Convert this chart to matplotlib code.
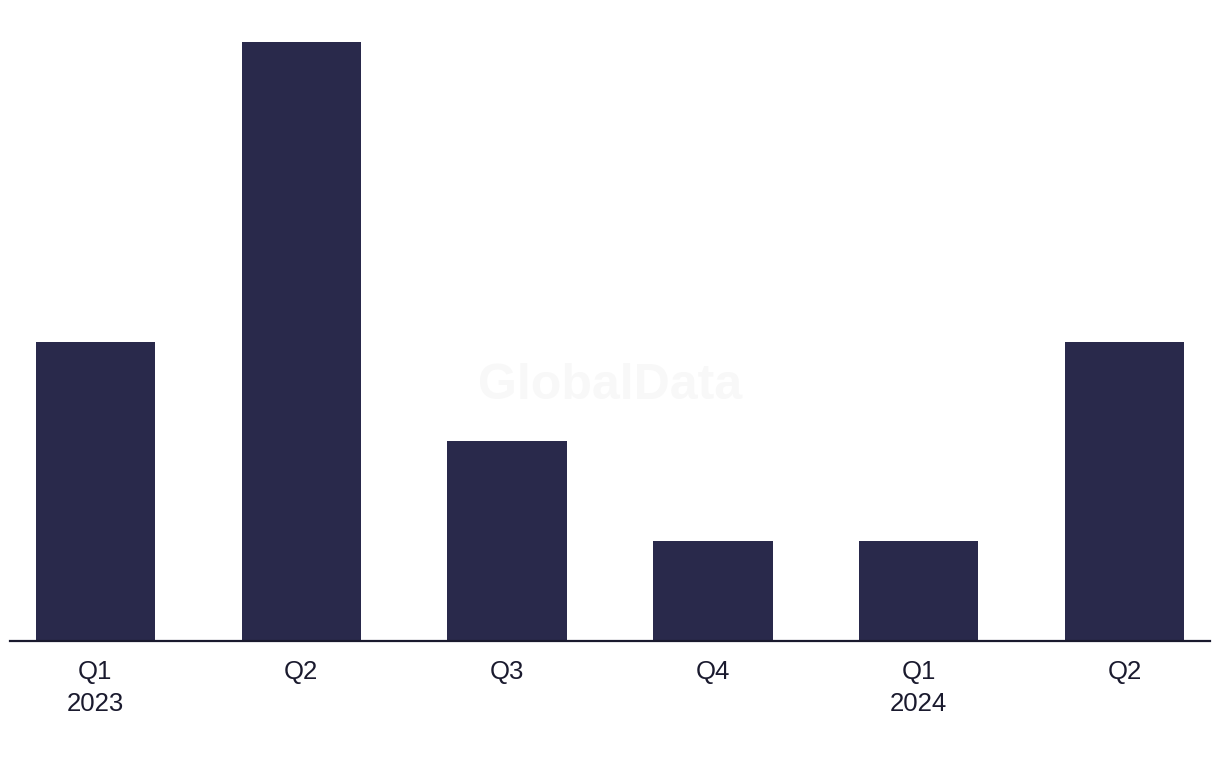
import matplotlib
matplotlib.use("Agg")
import matplotlib.pyplot as plt

categories = ["Q1\n2023", "Q2", "Q3", "Q4", "Q1\n2024", "Q2"]
values = [3, 6, 2, 1, 1, 3]

plt.rcParams['font.family'] = ['Liberation Sans', 'DejaVu Sans']

fig = plt.figure(figsize=(12.2, 7.68), dpi=100)
ax = fig.add_axes([10/1220, (768-641)/768, 1200/1220, (641-42)/768])
x = list(range(len(values)))
ax.bar(x, values, width=0.58, color="#29294b", zorder=2)
ax.set_xlim(-0.415, 5.415)
ax.set_ylim(0, 6)
for s in ["top", "right", "left"]:
    ax.spines[s].set_visible(False)
ax.spines["bottom"].set_color("#1a1a2e")
ax.spines["bottom"].set_linewidth(1.6)
ax.set_yticks([])
ax.set_xticks(x)
ax.set_xticklabels(categories, fontsize=18.5, color="#1a1a2e", linespacing=1.4)
ax.tick_params(axis="x", length=0, pad=14)
fig.text(0.5, (768-386)/768, "GlobalData", ha="center", va="center",
         fontsize=36, fontweight="bold", color="#f8f8f8", zorder=0)
fig.savefig("out.png", dpi=100)
